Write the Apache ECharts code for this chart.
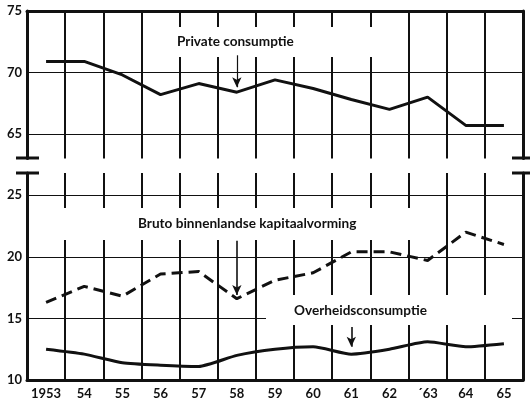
<!DOCTYPE html>
<html>
<head>
<meta charset="utf-8">
<script src="https://cdn.jsdelivr.net/npm/echarts@6/dist/echarts.min.js"></script>
<style>
  html, body { margin: 0; padding: 0; background: #fff; }
  #chart { width: 530px; height: 403px; }
</style>
</head>
<body>
<div id="chart"></div>
<script>
// data
const years = ['1953', '54', '55', '56', '57', '58', '59', '60', '61', '62', '´63', '64', '65'];
const privateConsumptie = [70.9, 70.9, 69.8, 68.2, 69.1, 68.4, 69.4, 68.7, 67.8, 67.0, 68.0, 65.7, 65.7];
const kapitaalvorming = [16.3, 17.6, 16.8, 18.6, 18.8, 16.6, 18.1, 18.7, 20.4, 20.4, 19.7, 22.0, 21.0];
const overheidsconsumptie = [12.5, 12.1, 11.4, 11.2, 11.1, 12.0, 12.5, 12.7, 12.1, 12.5, 13.1, 12.7, 12.95];
const topTicks = [65, 70, 75];
const bottomTicks = [10, 15, 20, 25];

const INK = '#111';
const FONT = 'Lato, "Open Sans", sans-serif';
const NOTE_FONT = 'bold 13.6px ' + FONT;

const chart = echarts.init(document.getElementById('chart'));

// arrow from a label down to a line
const arrow = (cat, from, to) => [
  { coord: [cat, from], symbol: 'none' },
  { coord: [cat, to], symbol: 'arrow' }
];

const vGrid = { show: true, showMinLine: false, showMaxLine: false, lineStyle: { color: INK, width: 2 } };
const thickLine = { show: true, lineStyle: { color: INK, width: 3 } };
const label = { color: INK, fontFamily: FONT, fontWeight: 'bold', fontSize: 13 };

chart.setOption({
  animation: false,
  backgroundColor: '#fff',
  grid: [
    { left: 27, right: 7, top: 11, height: 147.6 },
    { left: 27, right: 7, top: 173, bottom: 23 }
  ],
  xAxis: [
    {
      gridIndex: 0, type: 'category', data: years, position: 'top', boundaryGap: true,
      axisLine: thickLine, axisTick: { show: false }, axisLabel: { show: false }, splitLine: vGrid
    },
    {
      gridIndex: 1, type: 'category', data: years, position: 'bottom', boundaryGap: true,
      axisLine: thickLine, axisTick: { show: false },
      axisLabel: Object.assign({ margin: 7, interval: 0 }, label),
      splitLine: vGrid
    }
  ],
  yAxis: [
    {
      gridIndex: 0, type: 'value', min: 63, max: 75,
      axisLine: thickLine, axisTick: { show: false },
      axisLabel: Object.assign({ margin: 5, customValues: topTicks }, label),
      splitLine: { show: false }
    },
    {
      gridIndex: 1, type: 'value', min: 10, max: 26.8, interval: 5,
      axisLine: thickLine, axisTick: { show: false },
      axisLabel: Object.assign({
        margin: 5,
        formatter: v => (bottomTicks.includes(v) ? String(v) : '')
      }, label),
      splitLine: { show: true, showMinLine: false, showMaxLine: false, lineStyle: { color: INK, width: 1.2 } }
    },
    {
      gridIndex: 0, type: 'value', min: 63, max: 75, position: 'right',
      axisLine: thickLine, axisTick: { show: false }, axisLabel: { show: false }, splitLine: { show: false }
    },
    {
      gridIndex: 1, type: 'value', min: 10, max: 26.8, position: 'right',
      axisLine: thickLine, axisTick: { show: false }, axisLabel: { show: false }, splitLine: { show: false }
    }
  ],
  series: [
    {
      name: 'Private consumptie', type: 'line', xAxisIndex: 0, yAxisIndex: 0,
      data: privateConsumptie, symbol: 'none', z: 3,
      lineStyle: { color: INK, width: 3 },
      markLine: {
        silent: true, symbol: 'none', symbolSize: [7, 10], label: { show: false },
        lineStyle: { color: INK, width: 1.2, type: 'solid' },
        data: [
          { yAxis: topTicks[0] },
          { yAxis: topTicks[1] },
          Object.assign(arrow('58', 71.4, 68.8), {})
        ]
      }
    },
    {
      name: 'Bruto binnenlandse kapitaalvorming', type: 'line', xAxisIndex: 1, yAxisIndex: 1,
      data: kapitaalvorming, symbol: 'none', z: 3,
      lineStyle: { color: INK, width: 3, type: [11, 6] },
      markLine: {
        silent: true, symbol: 'none', symbolSize: [7, 10], label: { show: false },
        lineStyle: { color: INK, width: 1.6, type: 'solid' },
        data: [arrow('58', 21.3, 16.9)]
      }
    },
    {
      name: 'Overheidsconsumptie', type: 'line', xAxisIndex: 1, yAxisIndex: 1,
      data: overheidsconsumptie, symbol: 'none', smooth: 0.2, z: 3,
      lineStyle: { color: INK, width: 3 },
      markLine: {
        silent: true, symbol: 'none', symbolSize: [7, 10], label: { show: false },
        lineStyle: { color: INK, width: 1.6, type: 'solid' },
        data: [arrow('61', 14.3, 12.7)]
      }
    }
  ],
  graphic: [
    // white bands behind the labels, as on the original print
    { type: 'rect', z: 1, shape: { x: 170, y: 27, width: 225, height: 30 }, style: { fill: '#fff' } },
    { type: 'rect', z: 1, shape: { x: 29, y: 208, width: 411, height: 32 }, style: { fill: '#fff' } },
    { type: 'rect', z: 1, shape: { x: 266, y: 295, width: 246, height: 30 }, style: { fill: '#fff' } },
    { type: 'text', z: 4, x: 177, y: 42, style: { text: 'Private consumptie', font: NOTE_FONT, fill: INK, verticalAlign: 'middle' } },
    { type: 'text', z: 4, x: 138, y: 224, style: { text: 'Bruto binnenlandse kapitaalvorming', font: NOTE_FONT, fill: INK, verticalAlign: 'middle' } },
    { type: 'text', z: 4, x: 294, y: 311, style: { text: 'Overheidsconsumptie', font: NOTE_FONT, fill: INK, verticalAlign: 'middle' } },
    // axis break marks
    { type: 'line', z: 4, shape: { x1: 16, y1: 158, x2: 39, y2: 158 }, style: { stroke: INK, lineWidth: 3 } },
    { type: 'line', z: 4, shape: { x1: 16, y1: 173, x2: 39, y2: 173 }, style: { stroke: INK, lineWidth: 3 } },
    { type: 'line', z: 4, shape: { x1: 512, y1: 158, x2: 530, y2: 158 }, style: { stroke: INK, lineWidth: 3 } },
    { type: 'line', z: 4, shape: { x1: 512, y1: 173, x2: 530, y2: 173 }, style: { stroke: INK, lineWidth: 3 } }
  ]
});

window.addEventListener('resize', () => chart.resize());
</script>
</body>
</html>
